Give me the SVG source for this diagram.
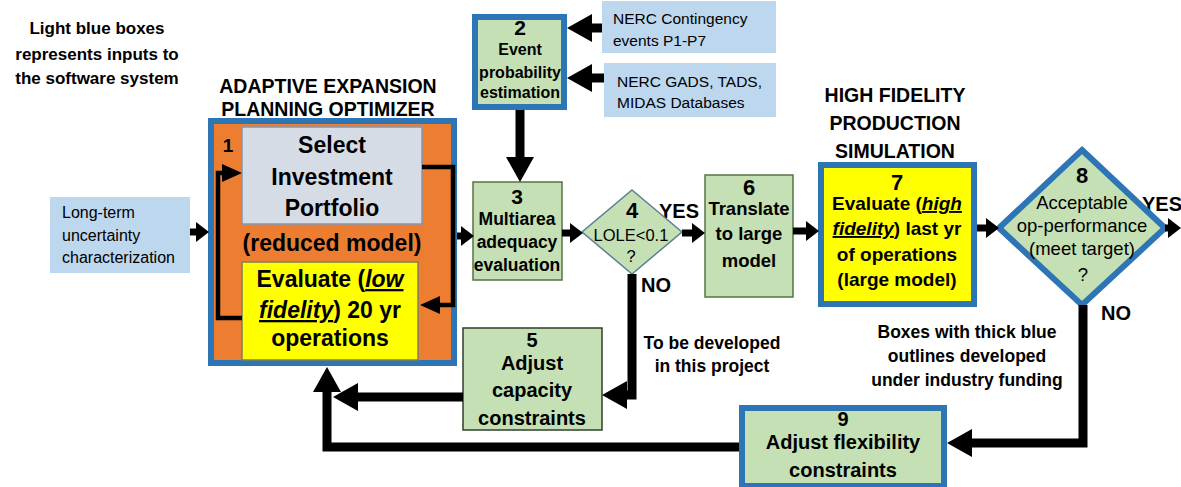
<svg xmlns="http://www.w3.org/2000/svg" width="1181" height="487" viewBox="0 0 1181 487">
<style>
text{font-family:"Liberation Sans",Arial,sans-serif;fill:#000}
.b{font-weight:bold}
.c{text-anchor:middle}
.iu{font-style:italic;text-decoration:underline}
.input{fill:#bdd7ee}
.thick{stroke:#2e75b6;stroke-width:6}
.green{fill:#c5e0b4}
.thin{stroke:#557346;stroke-width:1.5}
.con{fill:none;stroke:#000;stroke-linejoin:miter}
.big{stroke-width:9;marker-end:url(#hb)}
.sm{stroke-width:7;marker-end:url(#hs)}
.lp{stroke-width:4.5;marker-end:url(#hl)}
</style>
<defs>
<marker id="hb" markerUnits="userSpaceOnUse" markerWidth="26" markerHeight="28" refX="0" refY="14" orient="auto"><path d="M0,0 L25,14 L0,28 z" fill="#000"/></marker>
<marker id="hs" markerUnits="userSpaceOnUse" markerWidth="14" markerHeight="20" refX="0" refY="10" orient="auto"><path d="M0,0 L13,10 L0,20 z" fill="#000"/></marker>
<marker id="hl" markerUnits="userSpaceOnUse" markerWidth="21" markerHeight="18" refX="0" refY="9" orient="auto"><path d="M0,0 L20,9 L0,18 z" fill="#000"/></marker>
</defs>
<rect width="1181" height="487" fill="#fff"/>

<g id="labels">
<text class="b c" font-size="17" x="97" y="34">Light blue boxes</text>
<text class="b c" font-size="17" x="97" y="60">represents inputs to</text>
<text class="b c" font-size="17" x="97" y="84">the software system</text>
<text class="b c" font-size="19.5" x="328" y="93">ADAPTIVE EXPANSION</text>
<text class="b c" font-size="19.5" x="328" y="116">PLANNING OPTIMIZER</text>
<text class="b c" font-size="19.5" x="895" y="102">HIGH FIDELITY</text>
<text class="b c" font-size="19.5" x="895" y="130">PRODUCTION</text>
<text class="b c" font-size="19.5" x="895" y="158">SIMULATION</text>
<text class="b c" font-size="17.5" x="712" y="349">To be developed</text>
<text class="b c" font-size="17.5" x="712" y="372">in this project</text>
<text class="b c" font-size="17.5" x="967" y="338">Boxes with thick blue</text>
<text class="b c" font-size="17.5" x="967" y="362">outlines developed</text>
<text class="b c" font-size="17.5" x="967" y="386">under industry funding</text>
<text class="b c" font-size="20" x="679" y="218">YES</text>
<text class="b c" font-size="20" x="656" y="292">NO</text>
<text class="b c" font-size="20" x="1162" y="211">YES</text>
<text class="b c" font-size="20" x="1116" y="320">NO</text>
</g>

<g id="input-longterm">
<rect class="input" x="50" y="197" width="140" height="76"/>
<text font-size="16" x="62" y="218">Long-term</text>
<text font-size="16" x="62" y="241">uncertainty</text>
<text font-size="16" x="62" y="263">characterization</text>
</g>

<g id="input-nerc-contingency">
<rect class="input" x="602" y="1" width="174" height="52"/>
<text font-size="15.5" x="613" y="24">NERC Contingency</text>
<text font-size="15.5" x="613" y="46">events P1-P7</text>
</g>

<g id="input-nerc-gads">
<rect class="input" x="604" y="63" width="172" height="54"/>
<text font-size="15.5" x="617" y="87">NERC GADS, TADS,</text>
<text font-size="15.5" x="617" y="108">MIDAS Databases</text>
</g>

<g id="node1">
<rect x="211" y="121" width="243" height="242" fill="#ed7d31" class="thick"/>
<rect x="242" y="127" width="180" height="97" fill="#d6dce5" stroke="#8497b0" stroke-width="1.5"/>
<rect x="242" y="262" width="176" height="98" fill="#ffff00" stroke="#7f7f5f" stroke-width="1.5"/>
<text class="b c" font-size="19" x="228" y="152">1</text>
<text class="b c" font-size="23" x="332" y="153">Select</text>
<text class="b c" font-size="23" x="332" y="185">Investment</text>
<text class="b c" font-size="23" x="332" y="216">Portfolio</text>
<text class="b c" font-size="23" x="332" y="251">(reduced model)</text>
<text class="b c" font-size="23" x="330" y="287">Evaluate (<tspan class="iu">low</tspan></text>
<text class="b c" font-size="23" x="330" y="318"><tspan class="iu">fidelity</tspan>) 20 yr</text>
<text class="b c" font-size="23" x="330" y="346">operations</text>
</g>

<g id="node2">
<rect x="475" y="17" width="89" height="90" class="green thick"/>
<text class="b c" font-size="21" x="520" y="35">2</text>
<text class="b c" font-size="16" x="520" y="55">Event</text>
<text class="b c" font-size="16" x="520" y="78">probability</text>
<text class="b c" font-size="16" x="520" y="98">estimation</text>
</g>

<g id="node3">
<rect x="473" y="182" width="89" height="98" class="green thin"/>
<text class="b c" font-size="21" x="517" y="204">3</text>
<text class="b c" font-size="17.5" x="517" y="225">Multiarea</text>
<text class="b c" font-size="17.5" x="517" y="248">adequacy</text>
<text class="b c" font-size="17.5" x="517" y="271">evaluation</text>
</g>

<g id="node4">
<polygon points="632,190 682,232 632,274 582,232" class="green" stroke="#5b7f95" stroke-width="1.5"/>
<text class="b c" font-size="22" x="632" y="218">4</text>
<text class="c" font-size="16.5" x="631" y="241">LOLE&lt;0.1</text>
<text class="c" font-size="16.5" x="631" y="262">?</text>
</g>

<g id="node5">
<rect x="463" y="328" width="139" height="102" class="green" stroke="#2f3f2a" stroke-width="1.5"/>
<text class="b c" font-size="20" x="532" y="347">5</text>
<text class="b c" font-size="20" x="532" y="370">Adjust</text>
<text class="b c" font-size="20" x="532" y="397">capacity</text>
<text class="b c" font-size="20" x="532" y="425">constraints</text>
</g>

<g id="node6">
<rect x="705" y="175" width="88" height="122" class="green thin"/>
<text class="b c" font-size="22" x="749" y="195">6</text>
<text class="b c" font-size="18.5" x="749" y="215">Translate</text>
<text class="b c" font-size="18.5" x="749" y="240">to large</text>
<text class="b c" font-size="18.5" x="749" y="267">model</text>
</g>

<g id="node7">
<rect x="821" y="165" width="153" height="139" fill="#ffff00" class="thick"/>
<text class="b c" font-size="22" x="897" y="190">7</text>
<text class="b c" font-size="19" x="897" y="210">Evaluate (<tspan class="iu">high</tspan></text>
<text class="b c" font-size="19" x="897" y="235"><tspan class="iu">fidelity</tspan>) last yr</text>
<text class="b c" font-size="19" x="897" y="261">of operations</text>
<text class="b c" font-size="19" x="897" y="286">(large model)</text>
</g>

<g id="node8">
<polygon points="1082,150 1165,228 1082,305 999,228" class="green thick"/>
<text class="b c" font-size="22" x="1082" y="183">8</text>
<text class="c" font-size="18.5" x="1082" y="209">Acceptable</text>
<text class="c" font-size="18.5" x="1082" y="232">op-performance</text>
<text class="c" font-size="18.5" x="1082" y="255">(meet target)</text>
<text class="c" font-size="18.5" x="1083" y="281">?</text>
</g>

<g id="node9">
<rect x="742" y="408" width="202" height="78" class="green thick"/>
<text class="b c" font-size="20" x="843" y="426">9</text>
<text class="b c" font-size="20" x="843" y="449">Adjust flexibility</text>
<text class="b c" font-size="20" x="843" y="477">constraints</text>
</g>

<g id="connectors">
<path class="con big" d="M602,28 H592"/>
<path class="con big" d="M604,78 H592"/>
<path class="con big" d="M520,110 V157"/>
<path class="con big" d="M632,274 V395 H627"/>
<path class="con big" d="M1083,305 V443 H972"/>
<path class="con big" d="M463,397 H358"/>
<path class="con big" d="M739,447 H327 V392"/>
<path class="con sm" d="M190,232 H196"/>
<path class="con sm" d="M457,236 H461"/>
<path class="con sm" d="M562,233 H570"/>
<path class="con sm" d="M682,233 H692"/>
<path class="con sm" d="M793,231 H806"/>
<path class="con sm" d="M977,228 H986"/>
<path class="con sm" d="M1165,228 H1168"/>
<path class="con lp" d="M242,318 H218 V173 H222"/>
<path class="con lp" d="M422,167 H453 V305 H440"/>
</g>
</svg>
